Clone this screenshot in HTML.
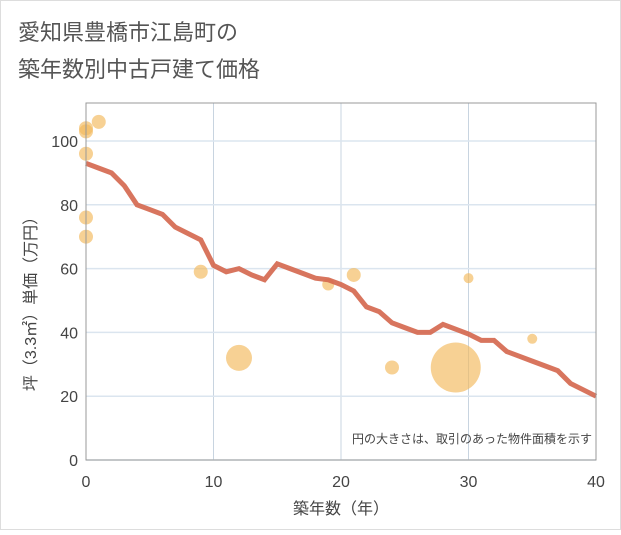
<!DOCTYPE html>
<html><head><meta charset="utf-8"><style>
body{margin:0;background:#fff;}
svg text{font-family:"Liberation Sans","Noto Sans CJK JP",sans-serif;}
</style></head><body>
<svg width="621" height="530" viewBox="0 0 621 530">
<rect x="0.5" y="0.5" width="620" height="529" fill="#fff" stroke="#ddd"/>
<text x="18" y="40" font-size="22" fill="#555">愛知県豊橋市江島町の</text>
<text x="18" y="77" font-size="22" fill="#555">築年数別中古戸建て価格</text>
<g id="grid"></g>
<g id="marks"></g>
<rect x="86" y="103" width="510" height="357" fill="none" stroke="#999"/>
<text x="592" y="443" font-size="12" fill="#444" text-anchor="end">円の大きさは、取引のあった物件面積を示す</text>
<text x="341" y="514" font-size="16" fill="#444" text-anchor="middle">築年数（年）</text>
<text transform="translate(36,300) rotate(-90)" font-size="16" fill="#444" text-anchor="middle">坪（3.3㎡）単価（万円）</text>
</svg>
<script>
const xTicks=[0,10,20,30,40];
const yTicks=[0,20,40,60,80,100];
const lineYears=[0,1,2,3,4,5,6,7,8,9,10,11,12,13,14,15,16,17,18,19,20,21,22,23,24,25,26,27,28,29,30,31,32,33,34,35,36,37,38,39,40];
const lineValues=[93,91.5,90,86,80,78.5,77,73,71,69,61,59,60,58,56.5,61.5,60,58.5,57,56.5,55,53,48,46.5,43,41.5,40,40,42.5,41,39.5,37.5,37.5,34,32.5,31,29.5,28,24,22,20];
const bubbleYears=[0,0,0,0,0,1,9,12,19,21,24,29,30,35];
const bubbleValues=[104,103,96,76,70,106,59,32,55,58,29,29,57,38];
const bubbleSizes=[7,7,7,7,7,7,7,13,6,7,7,25,5,5];
const NS="http://www.w3.org/2000/svg";
const X=v=>86+v*12.75, Y=v=>460-v*3.19;
const grid=document.getElementById('grid'), marks=document.getElementById('marks');
xTicks.forEach(t=>{
 const l=document.createElementNS(NS,'line');
 
 
 l.setAttribute('x1',X(t));l.setAttribute('x2',X(t));l.setAttribute('y1',103);l.setAttribute('y2',460);
 l.setAttribute('stroke','#c8d4e0');grid.appendChild(l);
 const tx=document.createElementNS(NS,'text');
 
 
 tx.setAttribute('x',X(t));tx.setAttribute('y',487);tx.setAttribute('font-size','16');tx.setAttribute('fill','#444');tx.setAttribute('text-anchor','middle');
 tx.textContent=t;grid.appendChild(tx);
});
yTicks.forEach(t=>{
 const l=document.createElementNS(NS,'line');
 
 
 l.setAttribute('x1',86);l.setAttribute('x2',596);l.setAttribute('y1',Y(t));l.setAttribute('y2',Y(t));
 l.setAttribute('stroke','#dbe5ef');l.setAttribute('stroke-width','1.5');grid.appendChild(l);
 const tx=document.createElementNS(NS,'text');
 
 
 tx.setAttribute('x',78);tx.setAttribute('y',Y(t)+6);tx.setAttribute('font-size','16');tx.setAttribute('fill','#444');tx.setAttribute('text-anchor','end');
 tx.textContent=t;grid.appendChild(tx);
});
bubbleYears.forEach((yr,i)=>{
 const c=document.createElementNS(NS,'circle');
 
 
 c.setAttribute('cx',X(yr));c.setAttribute('cy',Y(bubbleValues[i]));c.setAttribute('r',bubbleSizes[i]);
 c.setAttribute('fill','#f2b85a');c.setAttribute('fill-opacity','0.65');marks.appendChild(c);
});
const p=document.createElementNS(NS,'polyline');


p.setAttribute('points',lineYears.map((yr,i)=>X(yr)+','+Y(lineValues[i])).join(' '));
p.setAttribute('fill','none');p.setAttribute('stroke','#d4664c');p.setAttribute('stroke-opacity','0.9');p.setAttribute('stroke-width','5');
marks.appendChild(p);
</script>
</body></html>
